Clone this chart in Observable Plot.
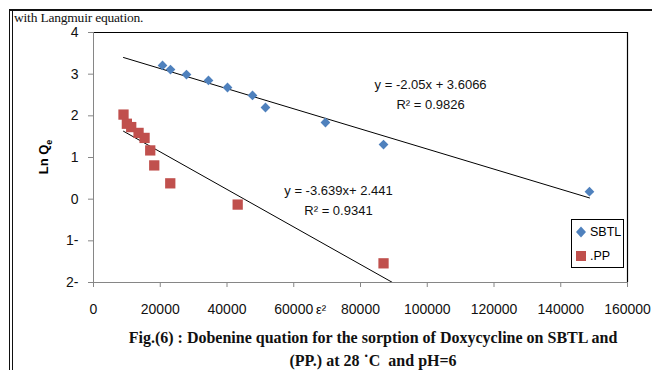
<!DOCTYPE html>
<html><head><meta charset="utf-8">
<script src="https://cdn.jsdelivr.net/npm/d3@7"></script>
<script src="https://cdn.jsdelivr.net/npm/@observablehq/plot@0.6"></script>
<style>
body{margin:0;background:#fff;}
#wrap{position:relative;width:652px;height:370px;overflow:hidden;background:#fff;font-family:"Liberation Sans",Arial,sans-serif;}
#wrap svg.plot{position:absolute;left:0;top:0;}
.abs{position:absolute;white-space:nowrap;}
#note{left:14px;top:10px;font-family:"Liberation Serif","Times New Roman",serif;font-size:13.5px;line-height:15px;color:#111;letter-spacing:-0.2px;}
#caption{left:98px;width:550px;top:326px;text-align:center;font-family:"Liberation Serif","Times New Roman",serif;font-weight:bold;font-size:16px;line-height:23px;color:#111;}
#ylab{left:45px;top:157px;transform:translate(-50%,-50%) rotate(-90deg);font-weight:bold;font-size:13px;}
#ylab sub{font-size:9px;}
#xlab{left:316px;top:302px;font-size:13px;}
#legend{left:571px;top:219px;width:51px;height:47px;border:1px solid #000;background:#fff;font-size:12.5px;}
.lg{position:absolute;left:3px;display:flex;align-items:center;}
.lg span{margin-left:3px;}
.ln{position:absolute;background:#111;}
</style></head><body><div id="wrap"></div>
<script>
// SBTL series (blue diamonds)
const sbtlX = [20680, 23070, 27860, 34450, 40150, 47640, 51530, 69500, 86900, 148600];
const sbtlY = [3.21, 3.11, 2.99, 2.85, 2.68, 2.49, 2.20, 1.84, 1.31, 0.18];
// PP series (red squares)
const ppX = [8990, 10000, 11300, 13500, 15300, 17000, 18200, 23000, 43200, 86900];
const ppY = [2.03, 1.81, 1.73, 1.59, 1.47, 1.17, 0.81, 0.38, -0.13, -1.54];
// trend lines (end points)
const trendSbtlX = [8990, 148600];
const trendSbtlY = [3.40, 0.03];
const trendPpX = [8990, 89600];
const trendPpY = [1.63, -2.0];
// ticks
const xTicks = [0, 20000, 40000, 60000, 80000, 100000, 120000, 140000, 160000];
const yTicks = [-2, -1, 0, 1, 2, 3, 4];
const yTickLabels = ["2-", "1-", "0", "1", "2", "3", "4"];
const seriesNames = ["SBTL", ".PP"];
const eqSbtl = ["y = -2.05x + 3.6066", "R\u00b2 = 0.9826"];
const eqPp = ["y = -3.639x+ 2.441", "R\u00b2 = 0.9341"];

const blue = "#4F81BD", red = "#C0504D", axisGray = "#868686";
const sbtl = sbtlX.map((x, i) => ({x, y: sbtlY[i]}));
const pp = ppX.map((x, i) => ({x, y: ppY[i]}));
const tS = trendSbtlX.map((x, i) => ({x, y: trendSbtlY[i]}));
const tP = trendPpX.map((x, i) => ({x, y: trendPpY[i]}));

const chart = Plot.plot({
  width: 652, height: 370,
  marginLeft: 93, marginRight: 25, marginTop: 32, marginBottom: 88,
  x: {domain: [0, 160000]},
  y: {domain: [-2, 4]},
  style: {fontFamily: "'Liberation Sans', Arial, sans-serif", fontSize: "14px", background: "transparent", overflow: "visible"},
  marks: [
    Plot.ruleY([4], {stroke: "#000", strokeWidth: 1.2}),
    Plot.ruleX([160000], {stroke: "#000", strokeWidth: 1.2}),
    Plot.ruleX([0], {stroke: axisGray}),
    Plot.ruleY([-2], {stroke: axisGray}),
    Plot.axisY({ticks: yTicks, tickSize: 5, tickPadding: 10, tickFormat: (d, i) => yTickLabels[i], stroke: axisGray, fill: "#111", label: null}),
    Plot.axisX({ticks: xTicks, tickSize: 5, tickPadding: 17, tickFormat: d => String(d), stroke: axisGray, fill: "#111", label: null}),
    Plot.line(tS, {x: "x", y: "y", stroke: "#000", strokeWidth: 1}),
    Plot.line(tP, {x: "x", y: "y", stroke: "#000", strokeWidth: 1, clip: true}),
    Plot.dot(sbtl, {x: "x", y: "y", symbol: "diamond2", r: 4.4, fill: blue, stroke: "none"}),
    Plot.dot(pp, {x: "x", y: "y", symbol: "square", r: 5.8, fill: red, stroke: "none"}),
    Plot.text(eqSbtl, {x: () => 101000, y: (d, i) => [2.75, 2.27][i], text: d => d, fontSize: 13, fill: "#111"}),
    Plot.text(eqPp, {x: () => 73400, y: (d, i) => [0.21, -0.27][i], text: d => d, fontSize: 13, fill: "#111"})
  ]
});
const wrap = document.getElementById("wrap");
wrap.appendChild(chart);

function add(html) { wrap.insertAdjacentHTML("beforeend", html); }
add('<div class="ln" style="left:9px;top:9px;width:643px;height:1.5px"></div>');
add('<div class="ln" style="left:9px;top:9px;width:1px;height:361px"></div>');
add('<div class="ln" style="left:12px;top:9px;width:1px;height:361px"></div>');
add('<div class="abs" id="note">with Langmuir equation.</div>');
add('<div class="abs" id="ylab">Ln Q<sub>e</sub></div>');
add('<div class="abs" id="xlab">\u03b5\u00b2</div>');
add('<div class="abs" id="caption">Fig.(6) : Dobenine quation for the sorption of Doxycycline on SBTL and<br>(PP.) at 28 \u02d9C&nbsp; and pH=6</div>');
add('<div class="abs" id="legend">' +
  '<div class="lg" style="top:5px"><svg width="12" height="14"><path d="M6,1.5L11,7L6,12.5L1,7Z" fill="' + blue + '"/></svg><span>' + seriesNames[0] + '</span></div>' +
  '<div class="lg" style="top:29px"><svg width="12" height="14"><rect x="1" y="2" width="10" height="10" fill="' + red + '"/></svg><span>' + seriesNames[1] + '</span></div>' +
  '</div>');
</script>
</body></html>
